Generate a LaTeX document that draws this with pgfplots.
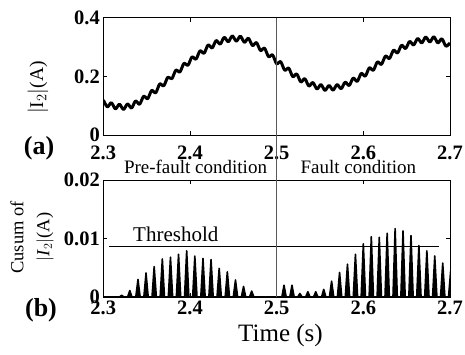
\documentclass[border=0pt]{standalone}
\usepackage{fontspec}
\setmainfont{Liberation Serif}
\usepackage{pgfplots}
\pgfplotsset{compat=1.18}
\begin{document}
\begin{tikzpicture}
\useasboundingbox (0pt,0pt) rectangle (465pt,355pt);
\begin{axis}[
 name=A, at={(103.3pt,220pt)}, anchor=south west,
 width=346.7pt, height=117.3pt, scale only axis,
 xmin=2.3, xmax=2.7, ymin=0, ymax=0.4,
 xtick={2.3,2.4,2.5,2.6,2.7}, xticklabels={2.3,2.4,2.5,2.6,2.7},
 ytick={0,0.2,0.4}, yticklabels={0,0.2,0.4},
 tick align=inside, major tick length=4pt,
 tick style={black, line width=0.6pt},
 axis line style={line width=0.8pt},
 ticklabel style={font=\fontsize{20.5}{20.5}\selectfont\bfseries},
 xticklabel style={yshift=-7pt},
]
\addplot[black, line width=3pt, smooth, line join=round] coordinates {
(2.3000,0.119)(2.3047,0.096)(2.3093,0.110)(2.3140,0.089)(2.3186,0.105)(2.3233,0.087)(2.3279,0.106)(2.3326,0.092)(2.3372,0.116)(2.3419,0.105)(2.3465,0.132)(2.3512,0.124)(2.3558,0.152)(2.3605,0.144)(2.3651,0.174)(2.3698,0.168)(2.3744,0.197)(2.3791,0.192)(2.3837,0.221)(2.3884,0.215)(2.3930,0.244)(2.3977,0.238)(2.4023,0.266)(2.4070,0.259)(2.4116,0.287)(2.4163,0.279)(2.4209,0.307)(2.4256,0.297)(2.4302,0.322)(2.4349,0.310)(2.4395,0.333)(2.4442,0.318)(2.4488,0.338)(2.4535,0.320)(2.4581,0.337)(2.4628,0.316)(2.4674,0.330)(2.4721,0.305)(2.4767,0.315)(2.4814,0.288)(2.4860,0.296)(2.4907,0.267)(2.4953,0.273)(2.5000,0.243)(2.5046,0.250)(2.5093,0.221)(2.5139,0.228)(2.5186,0.199)(2.5232,0.208)(2.5279,0.181)(2.5325,0.192)(2.5372,0.167)(2.5418,0.179)(2.5465,0.157)(2.5511,0.172)(2.5558,0.152)(2.5604,0.169)(2.5651,0.153)(2.5697,0.172)(2.5744,0.158)(2.5790,0.180)(2.5837,0.169)(2.5883,0.194)(2.5930,0.183)(2.5976,0.210)(2.6023,0.201)(2.6069,0.229)(2.6116,0.221)(2.6162,0.249)(2.6209,0.241)(2.6255,0.269)(2.6302,0.261)(2.6348,0.289)(2.6395,0.280)(2.6441,0.306)(2.6488,0.295)(2.6534,0.319)(2.6581,0.307)(2.6627,0.329)(2.6674,0.314)(2.6720,0.334)(2.6767,0.317)(2.6813,0.335)(2.6860,0.314)(2.6906,0.328)(2.6953,0.303)(2.7000,0.314)
};
\coordinate (va) at (axis cs:2.5,0.4);
\end{axis}
\begin{axis}[
 name=B, at={(103.3pt,58pt)}, anchor=south west,
 width=346.7pt, height=117pt, scale only axis,
 xmin=2.3, xmax=2.7, ymin=0, ymax=0.02,
 xtick={2.3,2.4,2.5,2.6,2.7}, xticklabels={2.3,2.4,2.5,2.6,2.7},
 ytick={0,0.01,0.02}, yticklabels={0,0.01,0.02},
 scaled y ticks=false,
 tick align=inside, major tick length=4pt,
 tick style={black, line width=0.6pt},
 axis line style={line width=0.8pt},
 ticklabel style={font=\fontsize{20.5}{20.5}\selectfont\bfseries},
]
\addplot[black, fill=black, line width=1.6pt, line join=round] coordinates {
(2.3,0)
(2.3187,0)(2.3212,0.0003)(2.3237,0)
(2.3281,0)(2.3306,0.0011)(2.3331,0)
(2.3375,0)(2.3400,0.0030)(2.3425,0)
(2.3468,0)(2.3493,0.0041)(2.3518,0)
(2.3562,0)(2.3587,0.0052)(2.3612,0)
(2.3656,0)(2.3681,0.0065)(2.3706,0)
(2.3750,0)(2.3775,0.0068)(2.3800,0)
(2.3843,0)(2.3868,0.0073)(2.3893,0)
(2.3937,0)(2.3962,0.0079)(2.3987,0)
(2.4031,0)(2.4056,0.0070)(2.4081,0)
(2.4125,0)(2.4150,0.0066)(2.4175,0)
(2.4218,0)(2.4243,0.0064)(2.4268,0)
(2.4312,0)(2.4337,0.0049)(2.4362,0)
(2.4406,0)(2.4431,0.0043)(2.4456,0)
(2.4500,0)(2.4525,0.0029)(2.4550,0)
(2.4593,0)(2.4618,0.0018)(2.4643,0)
(2.4687,0)(2.4712,0.0010)(2.4737,0)
(2.5060,0)(2.5085,0.0020)(2.5110,0)
(2.5152,0)(2.5177,0.0020)(2.5202,0)
(2.5243,0)(2.5268,0.0006)(2.5293,0)
(2.5335,0)(2.5360,0.0009)(2.5385,0)
(2.5426,0)(2.5451,0.0009)(2.5476,0)
(2.5518,0)(2.5543,0.0013)(2.5568,0)
(2.5609,0)(2.5634,0.0027)(2.5659,0)
(2.5701,0)(2.5726,0.0042)(2.5751,0)
(2.5792,0)(2.5817,0.0056)(2.5842,0)
(2.5884,0)(2.5909,0.0073)(2.5934,0)
(2.5975,0)(2.6000,0.0091)(2.6025,0)
(2.6067,0)(2.6092,0.0103)(2.6117,0)
(2.6159,0)(2.6184,0.0102)(2.6209,0)
(2.6250,0)(2.6275,0.0109)(2.6300,0)
(2.6342,0)(2.6367,0.0117)(2.6392,0)
(2.6433,0)(2.6458,0.0113)(2.6483,0)
(2.6525,0)(2.6550,0.0105)(2.6575,0)
(2.6616,0)(2.6641,0.0088)(2.6666,0)
(2.6708,0)(2.6733,0.0079)(2.6758,0)
(2.6799,0)(2.6824,0.0070)(2.6849,0)
(2.6891,0)(2.6916,0.0058)(2.6941,0)
(2.6983,0)(2.7008,0.0045)(2.7033,0)
};
\addplot[black, line width=0.8pt] coordinates {(2.307,0.0086)(2.687,0.0086)};
\coordinate (vb) at (axis cs:2.5,0);
\end{axis}
\draw[black!65, line width=0.8pt] (va) -- (vb);
\node[rotate=90, font=\fontsize{19.5}{19.5}\selectfont] at (38pt,267.5pt) {$|$I$_2|$(A)};
\node[rotate=90, font=\fontsize{18.5}{18.5}\selectfont] at (17pt,117.5pt) {Cusum of};
\node[rotate=90, font=\fontsize{18.5}{18.5}\selectfont] at (45pt,118pt) {$|$\textit{I}$_2|$(A)};
\node[font=\fontsize{26}{26}\selectfont\bfseries] at (39pt,207pt) {(a)};
\node[font=\fontsize{26}{26}\selectfont\bfseries] at (41pt,45pt) {(b)};
\node[font=\fontsize{25}{25}\selectfont] at (280.5pt,20pt) {Time (s)};
\node[anchor=base west, inner sep=0pt, font=\fontsize{21}{21}\selectfont] at (133pt,113.3pt) {Threshold};
\node[anchor=base, inner sep=0pt, font=\fontsize{19}{19}\selectfont] at (195.5pt,181.7pt) {Pre-fault condition};
\node[anchor=base, inner sep=0pt, font=\fontsize{19}{19}\selectfont] at (358.3pt,181.7pt) {Fault condition};
\end{tikzpicture}
\end{document}
